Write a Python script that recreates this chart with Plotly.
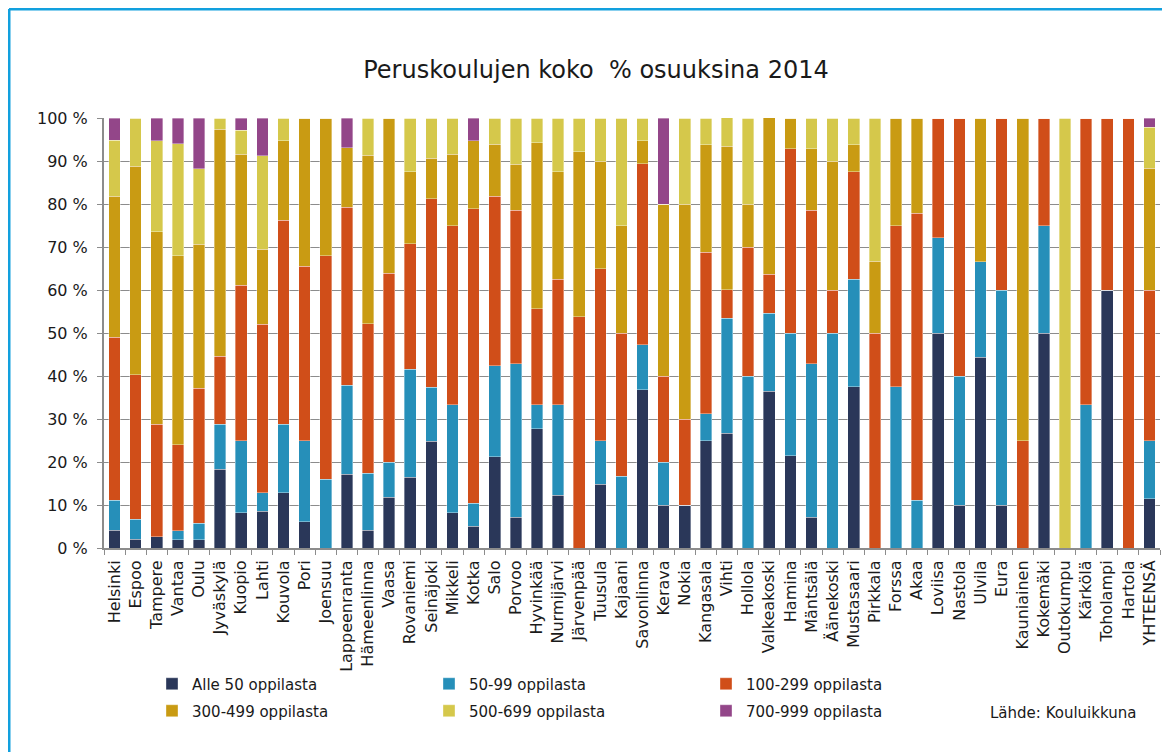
import plotly.graph_objects as go

FONT = "DejaVu Sans"

kunnat = [
    "Helsinki", "Espoo", "Tampere", "Vantaa", "Oulu", "Jyväskylä", "Kuopio", "Lahti",
    "Kouvola", "Pori", "Joensuu", "Lappeenranta", "Hämeenlinna", "Vaasa", "Rovaniemi",
    "Seinäjoki", "Mikkeli", "Kotka", "Salo", "Porvoo", "Hyvinkää", "Nurmijärvi",
    "Järvenpää", "Tuusula", "Kajaani", "Savonlinna", "Kerava", "Nokia", "Kangasala",
    "Vihti", "Hollola", "Valkeakoski", "Hamina", "Mäntsälä", "Äänekoski", "Mustasaari",
    "Pirkkala", "Forssa", "Akaa", "Loviisa", "Nastola", "Ulvila", "Eura", "Kauniainen",
    "Kokemäki", "Outokumpu", "Kärkölä", "Toholampi", "Hartola", "YHTEENSÄ",
]

alle_50 = [4.1, 2.0, 2.6, 1.9, 1.9, 18.3, 8.2, 8.5, 12.9, 6.1, 0, 17.1, 4.1, 11.8, 16.4,
           24.8, 8.2, 5.1, 21.2, 7.1, 27.7, 12.3, 0, 14.8, 0, 36.8, 10, 10, 25,
           26.7, 0, 36.4, 21.4, 7.1, 0, 37.5, 0, 0, 0, 50, 10, 44.4, 10, 0,
           50, 0, 0, 60, 0, 11.4]
o_50_99 = [7.0, 4.7, 0, 2.1, 3.9, 10.5, 16.7, 4.4, 15.9, 18.8, 16.0, 20.8, 13.3, 8.1, 25.2,
           12.6, 25.1, 5.3, 21.2, 35.7, 5.6, 21.0, 0, 10.1, 16.7, 10.5, 10, 0, 6.25,
           26.7, 40, 18.2, 28.6, 35.7, 50, 25, 0, 37.5, 11.1, 22.2, 30, 22.2, 50, 0,
           25, 0, 33.3, 0, 0, 13.6]
o_100_299 = [37.9, 33.6, 26.2, 20.0, 31.4, 15.8, 36.2, 39.1, 47.4, 40.6, 52.0, 41.3, 34.7, 44.0, 29.2,
             43.8, 41.7, 68.5, 39.4, 35.8, 22.3, 29.2, 53.8, 40.1, 33.3, 42.1, 20, 20, 37.5,
             6.7, 30, 9.1, 42.9, 35.7, 10, 25, 50, 37.5, 66.7, 27.8, 60, 0, 40, 25,
             25, 0, 66.7, 40, 100, 35.0]
o_300_499 = [32.8, 48.5, 44.8, 44.0, 33.4, 52.8, 30.5, 17.5, 18.5, 34.5, 32.0, 13.9, 39.2, 36.1, 16.7,
             9.4, 16.6, 15.8, 12.1, 10.6, 38.7, 25.0, 38.4, 25.0, 25, 5.3, 40, 50, 25,
             33.3, 10, 36.4, 7.1, 14.3, 30, 6.25, 16.7, 25, 22.2, 0, 0, 33.3, 0, 75,
             0, 0, 0, 0, 0, 28.3]
o_500_699 = [13.0, 11.2, 21.1, 26.0, 17.6, 2.6, 5.6, 21.7, 5.3, 0, 0, 0, 8.7, 0, 12.5,
             9.4, 8.4, 0, 6.1, 10.8, 5.7, 12.5, 7.8, 10.0, 25, 5.3, 0, 20, 6.25,
             6.7, 20, 0, 0, 7.1, 10, 6.25, 33.3, 0, 0, 0, 0, 0, 0, 0,
             0, 100, 0, 0, 0, 9.5]
o_700_999 = [5.2, 0, 5.3, 6.0, 11.8, 0, 2.8, 8.8, 0, 0, 0, 6.9, 0, 0, 0,
             0, 0, 5.3, 0, 0, 0, 0, 0, 0, 0, 0, 20, 0, 0,
             0, 0, 0, 0, 0, 0, 0, 0, 0, 0, 0, 0, 0, 0, 0,
             0, 0, 0, 0, 0, 2.2]

sarjat = [
    ("Alle 50 oppilasta", alle_50, "#2a3759", "legend"),
    ("50-99 oppilasta", o_50_99, "#268fb9", "legend"),
    ("100-299 oppilasta", o_100_299, "#d04e19", "legend"),
    ("300-499 oppilasta", o_300_499, "#c99b13", "legend2"),
    ("500-699 oppilasta", o_500_699, "#d5c84b", "legend2"),
    ("700-999 oppilasta", o_700_999, "#934689", "legend2"),
]

# the page body adds an 8 px margin, so the figure starts at page (8, 8)
OFF = 8
W, H = 1170 - OFF, 752 - OFF
# plot area, page pixels: x 104..1160, y 118..548
L, R, T, B = 104 - OFF, W - (1160 - OFF), 118 - OFF, H - (548 - OFF)
PW, PH = W - L - R, H - T - B


def px_x(x):
    # page x -> paper x
    return (x - OFF - L) / PW


def px_y(y):
    # page y -> paper y
    return (H - B - (y - OFF)) / PH


fig = go.Figure()
for nimi, arvot, vari, leg in sarjat:
    fig.add_trace(go.Bar(x=kunnat, y=arvot, name=nimi, marker_color=vari,
                         marker_line=dict(width=0.6, color="rgba(255,255,255,0.6)"),
                         legend=leg))

legend_common = dict(orientation="h", xanchor="left", yanchor="middle",
                     traceorder="normal",
                     entrywidth=232, entrywidthmode="pixels",
                     font=dict(family=FONT, size=15, color="#1a1a1a"),
                     bgcolor="rgba(0,0,0,0)", itemclick=False)

fig.update_layout(
    width=W, height=H,
    margin=dict(l=L, r=R, t=T, b=B),
    paper_bgcolor="white", plot_bgcolor="white",
    barmode="stack", bargap=0.45,
    font=dict(family=FONT, color="#1a1a1a"),
    title=dict(text="Peruskoulujen koko \u00a0% osuuksina 2014",
               font=dict(family=FONT, size=24, color="#1a1a1a"),
               x=(596 - OFF) / W, xanchor="center", xref="container",
               y=1 - (70 - OFF) / H, yanchor="middle", yref="container"),
    legend=dict(x=px_x(152), y=px_y(684), **legend_common),
    legend2=dict(x=px_x(152), y=px_y(711), **legend_common),
    showlegend=True,
)

fig.update_yaxes(
    range=[0, 100], tickvals=list(range(0, 101, 10)),
    ticktext=[f"{v} %" for v in range(0, 101, 10)],
    tickfont=dict(family=FONT, size=16, color="#1a1a1a"),
    showgrid=True, gridcolor="#8c8c8c", gridwidth=1,
    showline=True, linecolor="#8c8c8c", linewidth=2,
    ticks="outside", ticklen=5, tickcolor="#8c8c8c", ticklabelstandoff=6,
    zeroline=False, fixedrange=True,
)
fig.update_xaxes(
    tickangle=-90, tickfont=dict(family=FONT, size=16, color="#1a1a1a"),
    showline=True, linecolor="#8c8c8c", linewidth=2,
    ticks="outside", ticklen=5, tickcolor="#8c8c8c", tickson="boundaries",
    ticklabelstandoff=4,
    showgrid=False, fixedrange=True,
)

fig.add_annotation(text="Lähde: Kouluikkuna", xref="paper", yref="paper",
                   x=px_x(988), y=px_y(713), xanchor="left", yanchor="middle",
                   showarrow=False, font=dict(family=FONT, size=15, color="#1a1a1a"))

# blue frame (top and left edges)
frame = dict(color="#12a0de", width=3)
fig.add_shape(type="line", xref="paper", yref="paper",
              x0=px_x(9), x1=px_x(1175), y0=px_y(9), y1=px_y(9), line=frame)
fig.add_shape(type="line", xref="paper", yref="paper",
              x0=px_x(9), x1=px_x(9), y0=px_y(9), y1=px_y(760), line=frame)

fig.write_html("out.html")
